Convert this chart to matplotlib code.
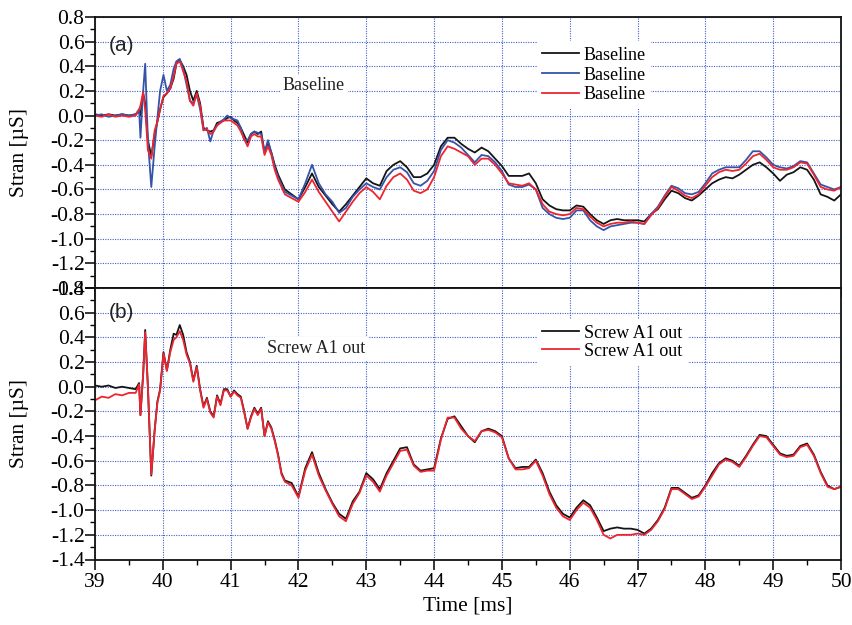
import matplotlib
matplotlib.use('Agg')
import matplotlib.pyplot as plt
from matplotlib.ticker import MultipleLocator

plt.rcParams['font.family'] = ['Liberation Serif', 'DejaVu Serif']

# tempo [ms] (amostragem comum as cinco curvas)
tempo = [39.0, 39.1, 39.2, 39.3, 39.4, 39.5, 39.6,
         39.65, 39.67, 39.71, 39.74, 39.78, 39.83, 39.88, 39.92, 39.96,
         40.01, 40.06, 40.11, 40.16,
         40.2, 40.25, 40.3, 40.35, 40.4, 40.45,
         40.5, 40.55, 40.6, 40.65, 40.7, 40.75,
         40.8, 40.85, 40.9, 40.95, 41.0, 41.05,
         41.1, 41.15, 41.2, 41.25, 41.3, 41.35,
         41.4, 41.45, 41.5, 41.55, 41.6, 41.65,
         41.7, 41.75, 41.8, 41.9,
         42.0, 42.1, 42.2, 42.3, 42.4, 42.5, 42.6, 42.7, 42.8, 42.9,
         43.0, 43.1, 43.2, 43.3, 43.4, 43.5, 43.6, 43.7, 43.8, 43.9,
         44.0, 44.1, 44.2, 44.3, 44.4, 44.5, 44.6, 44.7, 44.8, 44.9,
         45.0, 45.1, 45.2, 45.3, 45.4, 45.5, 45.6, 45.7, 45.8, 45.9,
         46.0, 46.1, 46.2, 46.3, 46.4, 46.5, 46.6, 46.7, 46.8, 46.9,
         47.0, 47.1, 47.2, 47.3, 47.4, 47.5, 47.6, 47.7, 47.8, 47.9,
         48.0, 48.1, 48.2, 48.3, 48.4, 48.5, 48.6, 48.7, 48.8, 48.9,
         49.0, 49.1, 49.2, 49.3, 49.4, 49.5, 49.6, 49.7, 49.8, 49.9,
         50.0]

# (a) Baseline
base_preto = [0.01, 0.00, 0.01, 0.00, 0.01, 0.00, 0.01,
              0.03, 0.00, 0.18, 0.10, -0.20, -0.33, -0.15, -0.05, 0.05,
              0.15, 0.18, 0.22, 0.30,
              0.42, 0.45, 0.40, 0.33, 0.20, 0.12,
              0.20, 0.10, -0.10, -0.12, -0.13, -0.12,
              -0.06, -0.05, -0.04, -0.02, -0.01, -0.04,
              -0.06, -0.10, -0.16, -0.22, -0.15, -0.13,
              -0.15, -0.13, -0.30, -0.22, -0.30, -0.40,
              -0.48, -0.54, -0.60, -0.64,
              -0.68, -0.58, -0.47, -0.58, -0.65, -0.72, -0.78, -0.72, -0.65, -0.58,
              -0.51, -0.55, -0.57, -0.45, -0.40, -0.37, -0.42, -0.50, -0.50, -0.47,
              -0.40, -0.25, -0.18, -0.18, -0.23, -0.27, -0.30, -0.26, -0.29, -0.35,
              -0.41, -0.49, -0.49, -0.49, -0.47, -0.55, -0.68, -0.73, -0.76, -0.77,
              -0.77, -0.73, -0.74, -0.80, -0.85, -0.88, -0.85, -0.84, -0.85, -0.85,
              -0.85, -0.86, -0.80, -0.76, -0.68, -0.61, -0.63, -0.67, -0.69, -0.65,
              -0.60, -0.55, -0.52, -0.50, -0.51, -0.48, -0.44, -0.40, -0.38, -0.42,
              -0.47, -0.53, -0.48, -0.46, -0.42, -0.44, -0.52, -0.64, -0.66, -0.69,
              -0.64]

base_azul = [0.00, 0.01, -0.01, 0.00, 0.01, 0.00, 0.01,
             0.05, -0.18, 0.20, 0.42, -0.20, -0.58, -0.25, -0.02, 0.20,
             0.33, 0.20, 0.25, 0.38,
             0.44, 0.46, 0.38, 0.25, 0.12, 0.10,
             0.17, 0.05, -0.12, -0.10, -0.21, -0.12,
             -0.08, -0.05, -0.03, 0.00, -0.02, -0.03,
             -0.04, -0.10, -0.20, -0.20, -0.15, -0.13,
             -0.14, -0.15, -0.30, -0.20, -0.30, -0.42,
             -0.50, -0.56, -0.62, -0.65,
             -0.68, -0.55, -0.40, -0.55, -0.64, -0.70, -0.79, -0.75, -0.66, -0.60,
             -0.55, -0.58, -0.60, -0.50, -0.44, -0.42, -0.46, -0.55, -0.57, -0.53,
             -0.45, -0.28, -0.20, -0.22, -0.26, -0.32, -0.38, -0.32, -0.33, -0.38,
             -0.45, -0.56, -0.58, -0.58, -0.56, -0.60, -0.75, -0.80, -0.83, -0.84,
             -0.83, -0.77, -0.77, -0.85, -0.90, -0.93, -0.90, -0.89, -0.88, -0.87,
             -0.87, -0.88, -0.80, -0.74, -0.65, -0.57, -0.59, -0.63, -0.64, -0.62,
             -0.55, -0.47, -0.44, -0.42, -0.42, -0.42, -0.36, -0.29, -0.29, -0.34,
             -0.40, -0.42, -0.43, -0.41, -0.37, -0.38, -0.47, -0.56, -0.58, -0.60,
             -0.58]

base_vermelho = [0.00, -0.01, 0.01, -0.01, 0.00, -0.01, 0.00,
                 0.05, 0.08, 0.19, 0.05, -0.28, -0.35, -0.12, -0.05, 0.05,
                 0.16, 0.18, 0.22, 0.32,
                 0.42, 0.44, 0.36, 0.28, 0.12, 0.08,
                 0.18, 0.08, -0.12, -0.11, -0.15, -0.13,
                 -0.08, -0.06, -0.04, -0.04, -0.04, -0.06,
                 -0.08, -0.13, -0.19, -0.25, -0.17, -0.15,
                 -0.17, -0.17, -0.32, -0.25, -0.32, -0.44,
                 -0.52, -0.58, -0.64, -0.67,
                 -0.70, -0.62, -0.52, -0.62, -0.70, -0.78, -0.86, -0.78, -0.70, -0.63,
                 -0.58, -0.62, -0.68, -0.57, -0.50, -0.47, -0.52, -0.61, -0.63, -0.60,
                 -0.50, -0.33, -0.25, -0.27, -0.30, -0.33, -0.40, -0.35, -0.35, -0.40,
                 -0.47, -0.55, -0.56, -0.57, -0.55, -0.60, -0.72, -0.78, -0.80, -0.81,
                 -0.80, -0.75, -0.76, -0.82, -0.87, -0.90, -0.88, -0.87, -0.87, -0.86,
                 -0.87, -0.88, -0.81, -0.75, -0.66, -0.58, -0.61, -0.65, -0.67, -0.64,
                 -0.57, -0.50, -0.46, -0.44, -0.45, -0.44, -0.39, -0.33, -0.31, -0.36,
                 -0.42, -0.44, -0.44, -0.42, -0.38, -0.39, -0.48, -0.58, -0.60, -0.61,
                 -0.58]

# (b) Screw A1 out
screw_preto = [0.01, 0.00, 0.01, -0.01, 0.00, -0.01, -0.02,
               0.03, -0.23, 0.10, 0.46, 0.00, -0.72, -0.35, -0.12, -0.02,
               0.28, 0.13, 0.30, 0.43,
               0.42, 0.50, 0.42, 0.28, 0.20, 0.05,
               0.17, -0.02, -0.16, -0.09, -0.20, -0.24,
               -0.07, -0.14, -0.02, -0.02, -0.08, -0.03,
               -0.06, -0.08, -0.20, -0.34, -0.24, -0.17,
               -0.22, -0.17, -0.40, -0.28, -0.33, -0.43,
               -0.55, -0.70, -0.76, -0.78,
               -0.89, -0.66, -0.53, -0.70, -0.83, -0.94, -1.03, -1.07, -0.93, -0.85,
               -0.70, -0.75, -0.83, -0.70, -0.60, -0.50, -0.49, -0.63, -0.68, -0.67,
               -0.66, -0.42, -0.26, -0.24, -0.32, -0.40, -0.45, -0.36, -0.34, -0.36,
               -0.40, -0.58, -0.66, -0.65, -0.65, -0.59, -0.70, -0.85, -0.96, -1.03,
               -1.06, -0.98, -0.92, -0.96, -1.06, -1.17, -1.15, -1.14, -1.15, -1.15,
               -1.16, -1.19, -1.15, -1.08, -0.98, -0.82, -0.82, -0.86, -0.90, -0.88,
               -0.80, -0.70, -0.62, -0.58, -0.60, -0.64, -0.56, -0.47, -0.39, -0.40,
               -0.47, -0.54, -0.56, -0.55, -0.48, -0.46, -0.55, -0.69, -0.80, -0.83,
               -0.81]

screw_vermelho = [-0.11, -0.08, -0.09, -0.06, -0.07, -0.05, -0.05,
                  0.02, -0.23, 0.10, 0.44, 0.00, -0.71, -0.35, -0.13, -0.03,
                  0.27, 0.13, 0.28, 0.38,
                  0.40, 0.45, 0.38, 0.26, 0.19, 0.04,
                  0.16, -0.03, -0.17, -0.10, -0.21, -0.25,
                  -0.08, -0.15, -0.03, -0.03, -0.08, -0.04,
                  -0.07, -0.09, -0.21, -0.34, -0.25, -0.18,
                  -0.23, -0.18, -0.40, -0.29, -0.34, -0.44,
                  -0.56, -0.71, -0.77, -0.80,
                  -0.90, -0.68, -0.55, -0.72, -0.84, -0.95, -1.05, -1.09, -0.95, -0.86,
                  -0.72, -0.77, -0.85, -0.72, -0.62, -0.52, -0.51, -0.64, -0.69, -0.68,
                  -0.68, -0.43, -0.25, -0.25, -0.34, -0.40, -0.44, -0.36, -0.35, -0.37,
                  -0.41, -0.58, -0.67, -0.67, -0.66, -0.60, -0.72, -0.87, -0.98, -1.05,
                  -1.08, -1.00, -0.94, -0.98, -1.08, -1.20, -1.23, -1.20, -1.20, -1.20,
                  -1.19, -1.20, -1.16, -1.09, -0.99, -0.83, -0.83, -0.87, -0.91, -0.89,
                  -0.81, -0.72, -0.63, -0.59, -0.61, -0.65, -0.57, -0.48, -0.40, -0.41,
                  -0.48, -0.55, -0.57, -0.56, -0.49, -0.47, -0.56, -0.70, -0.81, -0.83,
                  -0.81]

PRETO = '#151515'
AZUL = '#3553a8'
VERMELHO = '#ee2530'
GRADE = '#3f5fc8'

fig = plt.figure(figsize=(8.52, 6.25), dpi=100)
ax_a = fig.add_axes([0.1115, 0.5392, 0.8756, 0.4336])
ax_b = fig.add_axes([0.1115, 0.1048, 0.8756, 0.4344])


def formata_eixo(ax, mostra_x):
    ax.set_xlim(39, 50)
    ax.set_ylim(-1.4, 0.8)
    ax.xaxis.set_major_locator(MultipleLocator(1))
    ax.xaxis.set_minor_locator(MultipleLocator(0.5))
    ax.yaxis.set_major_locator(MultipleLocator(0.2))
    ax.yaxis.set_minor_locator(MultipleLocator(0.1))
    ax.yaxis.set_major_formatter(lambda v, p: f'{v:.1f}' if abs(v) > 1e-9 else '0.0')
    ax.grid(True, which='major', color=GRADE, linestyle=(0, (1, 1.2)), linewidth=0.8)
    ax.set_axisbelow(True)
    ax.tick_params(axis='both', which='major', direction='out', length=7, width=1.1,
                   labelsize=15.5, top=False, right=False)
    ax.tick_params(axis='both', which='minor', direction='out', length=3.6, width=1.0,
                   top=False, right=False)
    ax.tick_params(axis='y', which='major', pad=0.5)
    ax.tick_params(axis='x', which='major', pad=3, labelbottom=mostra_x)
    for s in ax.spines.values():
        s.set_linewidth(1.3)
        s.set_color('#111111')
    ax.set_ylabel('Stran [µS]', fontsize=15.5)
    ax.yaxis.set_label_coords(-0.088, 0.5)


# GRAFICO (a)
ax_a.plot(tempo, base_preto, color=PRETO, linewidth=1.3, label='Baseline')
ax_a.plot(tempo, base_azul, color=AZUL, linewidth=1.3, label='Baseline')
ax_a.plot(tempo, base_vermelho, color=VERMELHO, linewidth=1.3, label='Baseline')
formata_eixo(ax_a, False)
ax_a.text(39.2, 0.57, '(a)', family='Liberation Sans', fontsize=15, color='#222222',
          va='center', ha='left')
ax_a.text(41.77, 0.24, 'Baseline', fontsize=13, color='#222222', va='center', ha='left',
          bbox=dict(facecolor='white', edgecolor='none', pad=2))
ax_a.legend(loc='upper left', bbox_to_anchor=(0.5925, 0.91), fontsize=13,
            frameon=True, fancybox=False, facecolor='white', edgecolor='none', framealpha=1,
            handlelength=2.0, handletextpad=0.3, labelspacing=0.15, borderpad=0.3,
            borderaxespad=0)

# GRAFICO (b)
ax_b.plot(tempo, screw_preto, color=PRETO, linewidth=1.3, label='Screw A1 out')
ax_b.plot(tempo, screw_vermelho, color=VERMELHO, linewidth=1.3, label='Screw A1 out')
formata_eixo(ax_b, True)
ax_b.text(39.2, 0.6, '(b)', family='Liberation Sans', fontsize=15, color='#222222',
          va='center', ha='left')
ax_b.text(41.54, 0.31, 'Screw A1 out', fontsize=13, color='#222222', va='center', ha='left',
          bbox=dict(facecolor='white', edgecolor='none', pad=2))
ax_b.legend(loc='upper left', bbox_to_anchor=(0.5925, 0.885), fontsize=13,
            frameon=True, fancybox=False, facecolor='white', edgecolor='none', framealpha=1,
            handlelength=2.0, handletextpad=0.3, labelspacing=0.05, borderpad=0.3,
            borderaxespad=0)
ax_b.set_xlabel('Time [ms]', fontsize=15.5, labelpad=3)

fig.savefig('out.png', dpi=100)
